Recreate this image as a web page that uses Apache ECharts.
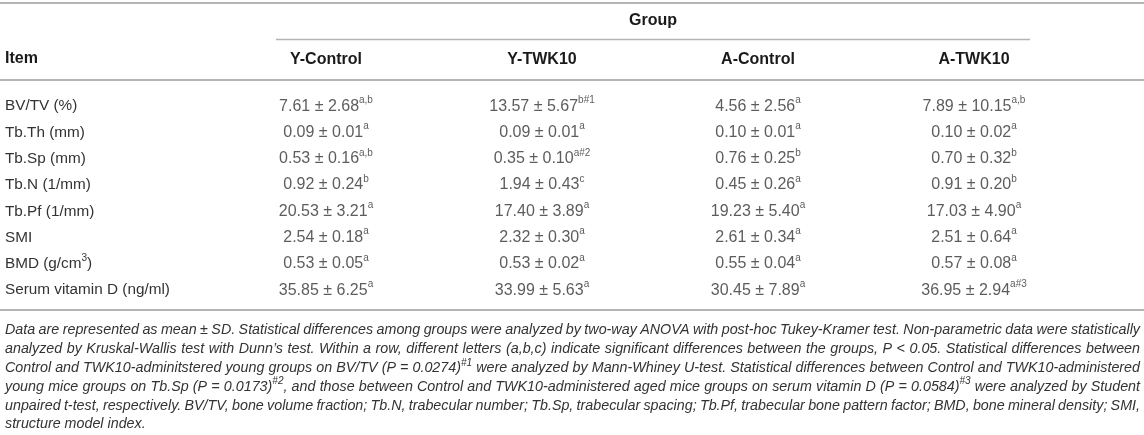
<!DOCTYPE html>
<html>
<head>
<meta charset="utf-8">
<script src="https://cdn.jsdelivr.net/npm/echarts@6/dist/echarts.min.js"></script>
<style>
  html, body { margin: 0; padding: 0; background: #fff; }
  #main { width: 1144px; height: 435px; }
</style>
</head>
<body>
<div id="main"></div>
<script>
// table content
const groups = ['Y-Control', 'Y-TWK10', 'A-Control', 'A-TWK10'];
const items = ['BV/TV (%)', 'Tb.Th (mm)', 'Tb.Sp (mm)', 'Tb.N (1/mm)', 'Tb.Pf (1/mm)', 'SMI', 'BMD (g/cm^3)', 'Serum vitamin D (ng/ml)'];

const yControlMean = [7.61, 0.09, 0.53, 0.92, 20.53, 2.54, 0.53, 35.85];
const yControlSd   = [2.68, 0.01, 0.16, 0.24, 3.21, 0.18, 0.05, 6.25];
const yControlSig  = ['a,b', 'a', 'a,b', 'b', 'a', 'a', 'a', 'a'];

const yTwk10Mean = [13.57, 0.09, 0.35, 1.94, 17.40, 2.32, 0.53, 33.99];
const yTwk10Sd   = [5.67, 0.01, 0.10, 0.43, 3.89, 0.30, 0.02, 5.63];
const yTwk10Sig  = ['b#1', 'a', 'a#2', 'c', 'a', 'a', 'a', 'a'];

const aControlMean = [4.56, 0.10, 0.76, 0.45, 19.23, 2.61, 0.55, 30.45];
const aControlSd   = [2.56, 0.01, 0.25, 0.26, 5.40, 0.34, 0.04, 7.89];
const aControlSig  = ['a', 'a', 'b', 'a', 'a', 'a', 'a', 'a'];

const aTwk10Mean = [7.89, 0.10, 0.70, 0.91, 17.03, 2.51, 0.57, 36.95];
const aTwk10Sd   = [10.15, 0.02, 0.32, 0.20, 4.90, 0.64, 0.08, 2.94];
const aTwk10Sig  = ['a,b', 'a', 'b', 'b', 'a', 'a', 'a', 'a#3'];

// footnote lines, [..] = superscript
const notes = [
  'Data are represented as mean ± SD. Statistical differences among groups were analyzed by two-way ANOVA with post-hoc Tukey-Kramer test. Non-parametric data were statistically',
  'analyzed by Kruskal-Wallis test with Dunn’s test. Within a row, different letters (a,b,c) indicate significant differences between the groups, P < 0.05. Statistical differences between',
  'Control and TWK10-adminitstered young groups on BV/TV (P = 0.0274)[#1] were analyzed by Mann-Whiney U-test. Statistical differences between Control and TWK10-administered',
  'young mice groups on Tb.Sp (P = 0.0173)[#2], and those between Control and TWK10-administered aged mice groups on serum vitamin D (P = 0.0584)[#3] were analyzed by Student',
  'unpaired t-test, respectively. BV/TV, bone volume fraction; Tb.N, trabecular number; Tb.Sp, trabecular spacing; Tb.Pf, trabecular bone pattern factor; BMD, bone mineral density; SMI,',
  'structure model index.'
];

const FONT = '"Liberation Sans", Arial, Helvetica, sans-serif';
const TEXT = '#333';
const HEAD = '#1a1a1a';
const RULE = '#b4b4b4';

const means = [yControlMean, yTwk10Mean, aControlMean, aTwk10Mean];
const sds = [yControlSd, yTwk10Sd, aControlSd, aTwk10Sd];
const sigs = [yControlSig, yTwk10Sig, aControlSig, aTwk10Sig];

const cells = [];
groups.forEach((g, gi) => {
  items.forEach((it, ri) => {
    cells.push([gi, ri, means[gi][ri], sds[gi][ri], sigs[gi][ri]]);
  });
});

const cellRich = {
  n: { fontSize: 16, lineHeight: 22, fontFamily: FONT, color: TEXT },
  s: { fontSize: 10, lineHeight: 11, fontFamily: FONT, color: TEXT, verticalAlign: 'top' }
};
const itemRich = {
  n: { fontSize: 15.3, lineHeight: 22, fontFamily: FONT, color: TEXT },
  s: { fontSize: 10, lineHeight: 11, fontFamily: FONT, color: TEXT, verticalAlign: 'top' }
};

function supText(str) {
  const i = str.indexOf('^');
  if (i < 0) return '{n|' + str + '}';
  const rest = str.slice(i + 1);
  const m = rest.match(/^(\S)(.*)$/);
  return '{n|' + str.slice(0, i) + '}{s|' + m[1] + '}' + (m[2] ? '{n|' + m[2] + '}' : '');
}

// footnote, justified word by word
const measureCtx = document.createElement('canvas').getContext('2d');
const noteSize = 14.3, noteSup = 10;
function textWidth(str, size) {
  measureCtx.font = 'italic ' + size + 'px ' + FONT;
  return measureCtx.measureText(str).width;
}
const noteLeft = 5, noteRight = 1140, noteTop = 330, noteStep = 18.9;
const noteElems = [];
notes.forEach((line, li) => {
  const y = noteTop + li * noteStep;
  const words = line.split(' ').map(w => {
    const m = w.match(/^(.*?)\[(.+?)\](.*)$/);
    const parts = m ? [{ t: m[1] }, { t: m[2], sup: true }, { t: m[3] }] : [{ t: w }];
    parts.forEach(p => { p.w = p.t ? textWidth(p.t, p.sup ? noteSup : noteSize) : 0; });
    return { parts, w: parts.reduce((a, p) => a + p.w, 0) };
  });
  const total = words.reduce((a, w) => a + w.w, 0);
  const last = li === notes.length - 1;
  const gap = last ? textWidth(' ', noteSize) : (noteRight - noteLeft - total) / (words.length - 1);
  let x = noteLeft;
  words.forEach(wd => {
    wd.parts.forEach(p => {
      if (p.t) {
        noteElems.push({
          type: 'text', x: x, y: p.sup ? y - 5 : y, silent: true,
          style: {
            text: p.t, fill: TEXT, align: 'left', verticalAlign: 'middle',
            font: 'italic ' + (p.sup ? noteSup : noteSize) + 'px ' + FONT
          }
        });
      }
      x += p.w;
    });
    x += gap;
  });
});

const chart = echarts.init(document.getElementById('main'));

chart.setOption({
  animation: false,
  grid: { left: 218, right: 62, top: 93, bottom: 131.6 },
  xAxis: {
    type: 'category',
    position: 'top',
    data: groups,
    axisLine: { show: false },
    axisTick: { show: false },
    splitLine: { show: false },
    axisLabel: { margin: 25, fontSize: 16, fontWeight: 'bold', color: HEAD, fontFamily: FONT }
  },
  yAxis: {
    type: 'category',
    inverse: true,
    data: items,
    axisLine: { show: false },
    axisTick: { show: false },
    splitLine: { show: false },
    axisLabel: {
      margin: 213, align: 'left', fontFamily: FONT, color: TEXT,
      formatter: v => supText(v),
      rich: itemRich
    }
  },
  series: [{
    type: 'scatter',
    data: cells,
    symbolSize: 0,
    silent: true,
    label: {
      show: true,
      position: 'inside',
      formatter: p => '{n|' + p.value[2].toFixed(2) + ' ± ' + p.value[3].toFixed(2) + '}{s|' + p.value[4] + '}',
      rich: cellRich
    }
  }],
  graphic: [
    { type: 'line', silent: true, shape: { x1: 0, y1: 3, x2: 1144, y2: 3 }, style: { stroke: RULE, lineWidth: 2 } },
    { type: 'line', silent: true, shape: { x1: 276, y1: 39.5, x2: 1030, y2: 39.5 }, style: { stroke: RULE, lineWidth: 1.3 } },
    { type: 'line', silent: true, shape: { x1: 0, y1: 80, x2: 1144, y2: 80 }, style: { stroke: RULE, lineWidth: 2 } },
    { type: 'line', silent: true, shape: { x1: 0, y1: 310, x2: 1144, y2: 310 }, style: { stroke: RULE, lineWidth: 2 } },
    { type: 'text', silent: true, x: 653, y: 21, style: { text: 'Group', fill: HEAD, align: 'center', verticalAlign: 'middle', font: 'bold 16px ' + FONT } },
    { type: 'text', silent: true, x: 5, y: 59, style: { text: 'Item', fill: HEAD, align: 'left', verticalAlign: 'middle', font: 'bold 16px ' + FONT } }
  ].concat(noteElems)
});
</script>
</body>
</html>
